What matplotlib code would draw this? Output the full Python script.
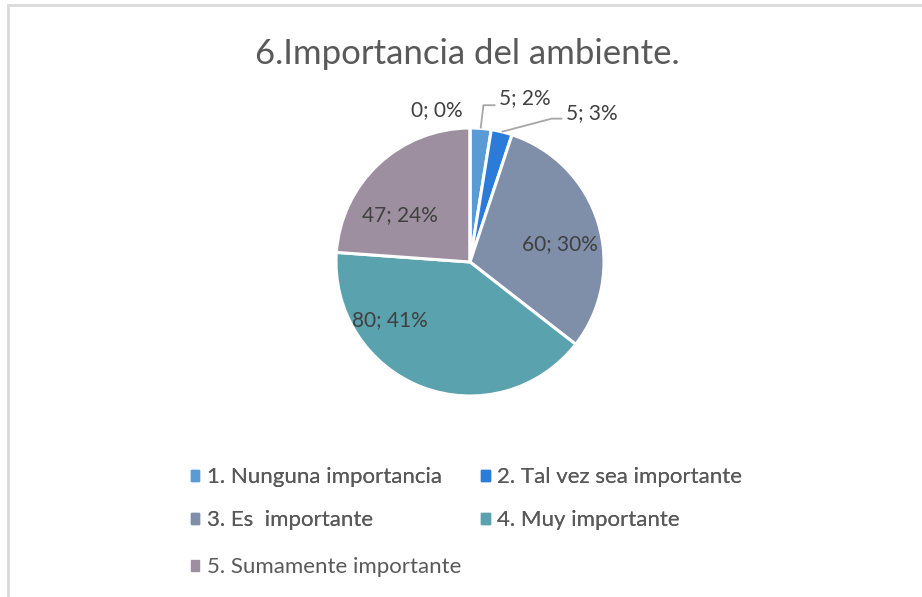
import matplotlib
matplotlib.use("Agg")
import matplotlib.pyplot as plt
from matplotlib.patches import Rectangle
import numpy as np

# ---- data ----
categories = ["1. Nunguna importancia", "2. Tal vez sea importante",
              "3. Es  importante", "4. Muy importante",
              "5. Sumamente importante", ""]
values = [5, 5, 60, 80, 47, 0]
percent_labels = ["2%", "3%", "30%", "41%", "24%", "0%"]
title = "6.Importancia del ambiente."

# ---- style ----
colors = ["#5B9BD5", "#2B7CD8", "#7F8FA9", "#5AA2AE", "#9E8FA0", "#C0C0C0"]
FONT = "Lato"
W, H = 922, 597
fig = plt.figure(figsize=(W / 100, H / 100), dpi=100)
fig.patch.set_facecolor("white")

# chart border
fig.add_artist(Rectangle((8 / W, -0.05), 1.2, (H - 5) / H + 0.05,
                         transform=fig.transFigure, fill=False,
                         edgecolor="#D9D9D9", linewidth=2))

cx, cy, R = 470, 262, 134
ax = fig.add_axes([(cx - R) / W, (H - cy - R) / H, 2 * R / W, 2 * R / H])
wedges, _ = ax.pie(values, colors=colors, startangle=90, counterclock=False,
                   radius=1, wedgeprops=dict(edgecolor="white", linewidth=2.2))
ax.set_xlim(-1, 1)
ax.set_ylim(-1, 1)
ax.set_aspect("equal")
ax.axis("off")

txt_color = "#404040"
# label layout: (x, y, ha) in pie units, index-aligned with values
label_pos = [(0.22, 1.22, "left"), (0.72, 1.11, "left"), (0.67, 0.13, "center"),
             (-0.60, -0.43, "center"), (-0.52, 0.35, "center"), (-0.25, 1.13, "center")]
for i, (v, p) in enumerate(zip(values, percent_labels)):
    x, y, ha = label_pos[i]
    ax.text(x, y, f"{v}; {p}", ha=ha, va="center", fontsize=15,
            family=FONT, color=txt_color, clip_on=False)

# leader lines for small slices
leader_knee = {0: (0.10, 1.17, 0.19), 1: (0.61, 1.07, 0.69)}
for i, (kx, ky, ex) in leader_knee.items():
    w = wedges[i]
    a = np.deg2rad((w.theta1 + w.theta2) / 2)
    sx, sy = np.cos(a), np.sin(a)
    ax.plot([sx, kx, ex], [sy, ky, ky], color="#A6A6A6", lw=1.3,
            clip_on=False, solid_capstyle="butt")

fig.text(467 / W, 1 - 54 / H, title, ha="center", va="center",
         fontsize=25, family=FONT, color="#595959")

# legend (Excel-style rows: 2 items per row)
handles = [Rectangle((0, 0), 1, 1, color=c) for c in colors[:5]]
leg_kw = dict(frameon=False, prop=dict(family=FONT, size=16),
              labelcolor="#595959", handlelength=0.38, handleheight=0.38,
              handletextpad=0.35, borderpad=0, borderaxespad=0, loc="upper left")
order = [0, 2, 1, 3]
leg1 = fig.legend([handles[i] for i in order], [categories[i] for i in order],
                  ncol=2, bbox_to_anchor=(191 / W, 1 - 467 / H),
                  columnspacing=1.75, labelspacing=1.05, **leg_kw)
fig.add_artist(leg1)
leg2 = fig.legend([handles[4]], [categories[4]],
                  bbox_to_anchor=(191 / W, 1 - 557 / H), **leg_kw)

fig.savefig("out.png", dpi=100, facecolor="white")
